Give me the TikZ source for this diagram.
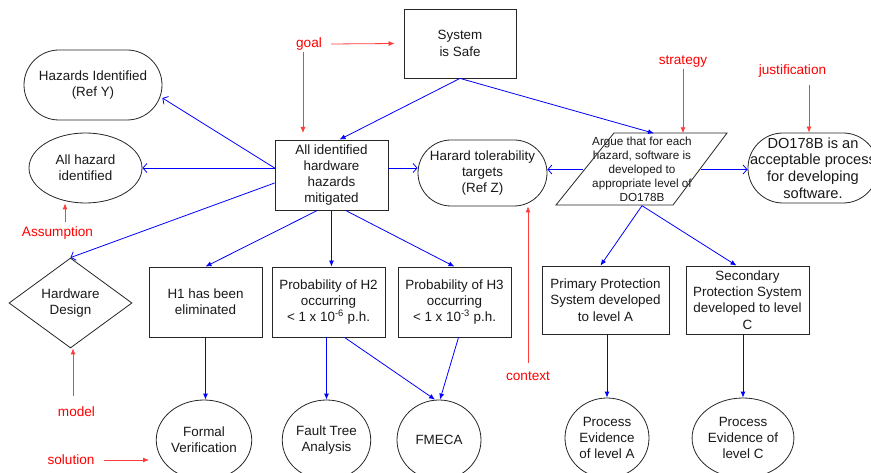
\documentclass[tikz,border=0pt]{standalone}
\usepackage{fontspec}
\setmainfont{Liberation Sans}
\usetikzlibrary{shapes.geometric,shapes.misc,arrows.meta,calc}
\definecolor{lineblue}{RGB}{0,0,255}
\definecolor{labred}{RGB}{255,0,0}
\definecolor{linered}{RGB}{255,60,60}
\tikzset{
  base/.style={draw=black!85, line width=0.8pt, align=center, inner sep=1pt, font=\fontsize{13.4}{16.3}\selectfont, text=black!90},
  goalbox/.style={base, rectangle},
  ctxbox/.style={base, rounded rectangle},
  asmbox/.style={base, ellipse},
  solbox/.style={base, ellipse},
  modelbox/.style={base, diamond},
  inlabel/.style={align=center, inner sep=0pt, font=\fontsize{14.6}{16.7}\selectfont, text=black!90},
  lab/.style={text=labred, font=\fontsize{13.6}{15}\selectfont, inner sep=1pt},
  fwd/.style={draw=lineblue, line width=0.8pt, -{Latex[length=6pt,width=5pt]}},
  opn/.style={draw=lineblue, line width=0.8pt, -{Straight Barb[length=4pt,width=9pt]}},
  rarr/.style={draw=linered, line width=0.8pt, -{Latex[length=6pt,width=5pt]}},
}
\begin{document}
\begin{tikzpicture}[x=1pt,y=-1pt]
\clip (0,0) rectangle (871,473);
\fill[white] (0,0) rectangle (871,473);

% goals
\node[goalbox, minimum width=112, minimum height=69] (safe) at (460,43.5) {System\\is Safe};
\node[goalbox, minimum width=113, minimum height=70] (allid) at (331.5,175) {All identified\\hardware\\hazards\\mitigated};
\node[goalbox, minimum width=113, minimum height=70] (h1) at (205.5,302) {H1 has been\\eliminated};
\node[goalbox, minimum width=113, minimum height=70] (h2) at (328.5,302) {Probability of H2\\occurring\\\textless{} 1 x 10\textsuperscript{-6} p.h.};
\node[goalbox, minimum width=113, minimum height=70] (h3) at (454.5,302) {Probability of H3\\occurring\\\textless{} 1 x 10\textsuperscript{-3} p.h.};
\node[goalbox, minimum width=127, minimum height=68] (prim) at (605.5,300) {Primary Protection\\System developed\\to level A};
\node[goalbox, minimum width=123, minimum height=68] (sec) at (747.5,300) {Secondary\\Protection System\\developed to level\\C};

% contexts
\node[ctxbox, minimum width=140, minimum height=70] (hazY) at (93,85) {Hazards Identified\\(Ref Y)};
\node[ctxbox, minimum width=131, minimum height=66] (hazZ) at (482.5,173) {Harard tolerability\\targets\\(Ref Z)};
\node[ctxbox, minimum width=132, minimum height=70,
      label={[inlabel]center:DO178B is an\\acceptable process\\for developing\\software.}] (do) at (813,168) {};

% assumption
\node[asmbox, minimum width=113, minimum height=70] (allhaz) at (85.5,168) {All hazard\\identified};

% model
\node[modelbox, minimum width=123, minimum height=90, inner sep=0pt] (hwd) at (70.5,303) {Hardware\\Design};

% strategy (parallelogram)
\node[align=center, inner sep=0pt, minimum width=117, minimum height=72, text=black!90,
      font=\fontsize{11.7}{14}\selectfont] (argue) at (642,169.5) {Argue that for each\\hazard, software is\\developed to\\appropriate level of\\DO178B};
\draw[black!85, line width=0.8pt] (614,133) -- (727,133) -- (673,205) -- (556,205) -- cycle;

% solutions
\node[solbox, minimum width=85, minimum height=80] (fv) at (204,440) {Formal\\Verification};
\node[solbox, minimum width=85, minimum height=80] (ft) at (326.5,440) {Fault Tree\\Analysis};
\node[solbox, minimum width=84, minimum height=80] (fm) at (439,440) {FMECA};
\node[solbox, minimum width=84, minimum height=80] (pa) at (607,438) {Process\\Evidence\\of level A};
\node[solbox, minimum width=84, minimum height=80] (pc) at (743,438) {Process\\Evidence of\\level C};

% blue connectors
\draw[fwd] (safe.south) -- ([xshift=8]allid.north);
\draw[fwd] (safe.south) -- ([xshift=12]argue.north);
\draw[opn] ([yshift=7]allid.west) -- ([yshift=-13]hazY.east);
\draw[opn] ([yshift=7]allid.west) -- (allhaz.east);
\draw[opn] ([yshift=-8]allid.west) -- (hwd.north);
\draw[opn] ([yshift=7]allid.east) -- ([yshift=7]allid.east -| hazZ.west);
\draw[opn] (argue.west) -- (argue.west -| hazZ.east);
\draw[opn] (argue.east) -- (argue.east -| do.west);
\draw[fwd] ([xshift=-14]allid.south) -- (h1.north);
\draw[fwd] (allid.south) -- (allid.south |- h2.north);
\draw[fwd] ([xshift=14]allid.south) -- (h3.north);
\draw[fwd] (argue.south) -- ([xshift=-5]prim.north);
\draw[fwd] (argue.south) -- ([xshift=-11]sec.north);
\draw[fwd] (h1.south) -- (h1.south |- fv.north);
\draw[fwd] (ft.north |- h2.south) -- (ft.north);
\draw[fwd] ([xshift=16]h2.south) -- ([xshift=-4]fm.north);
\draw[fwd] ([xshift=4]h3.south) -- ([xshift=1]fm.north);
\draw[fwd] (pa.north |- prim.south) -- (pa.north);
\draw[fwd] (pc.north |- sec.south) -- (pc.north);

% red annotation labels
\node[lab] (goal) at (309,44) {goal};
\node[lab] (strat) at (683,61.5) {strategy};
\node[lab] (just) at (792.5,71) {justification};
\node[lab] (ctx) at (528,376) {context};
\node[lab] (asm) at (57.5,233) {Assumption};
\node[lab] (mdl) at (76.5,412) {model};
\node[lab] (sol) at (71,460) {solution};

\coordinate (goaltip) at (303,133);
\coordinate (justfrom) at (809,85);
\coordinate (ctxfrom) at (528,363);
\coordinate (asmfrom) at (65,222);
\coordinate (mdlfrom) at (73,396);
\coordinate (solto) at (149,460);

\draw[rarr] ([xshift=8]goal.east) -- ([xshift=-9]safe.west);
\draw[rarr] (goal.south -| goaltip) -- (goaltip);
\draw[rarr] (strat.south) -- (strat.south |- argue.north);
\draw[rarr] (justfrom) -- (justfrom |- do.north);
\draw[rarr] (ctxfrom) -- (ctxfrom |- hazZ.south);
\draw[rarr] (asmfrom) -- (asmfrom |- allhaz.south);
\draw[rarr] (mdlfrom) -- (mdlfrom |- hwd.south);
\draw[rarr] ([xshift=8]sol.east) -- (solto);
\end{tikzpicture}
\end{document}
